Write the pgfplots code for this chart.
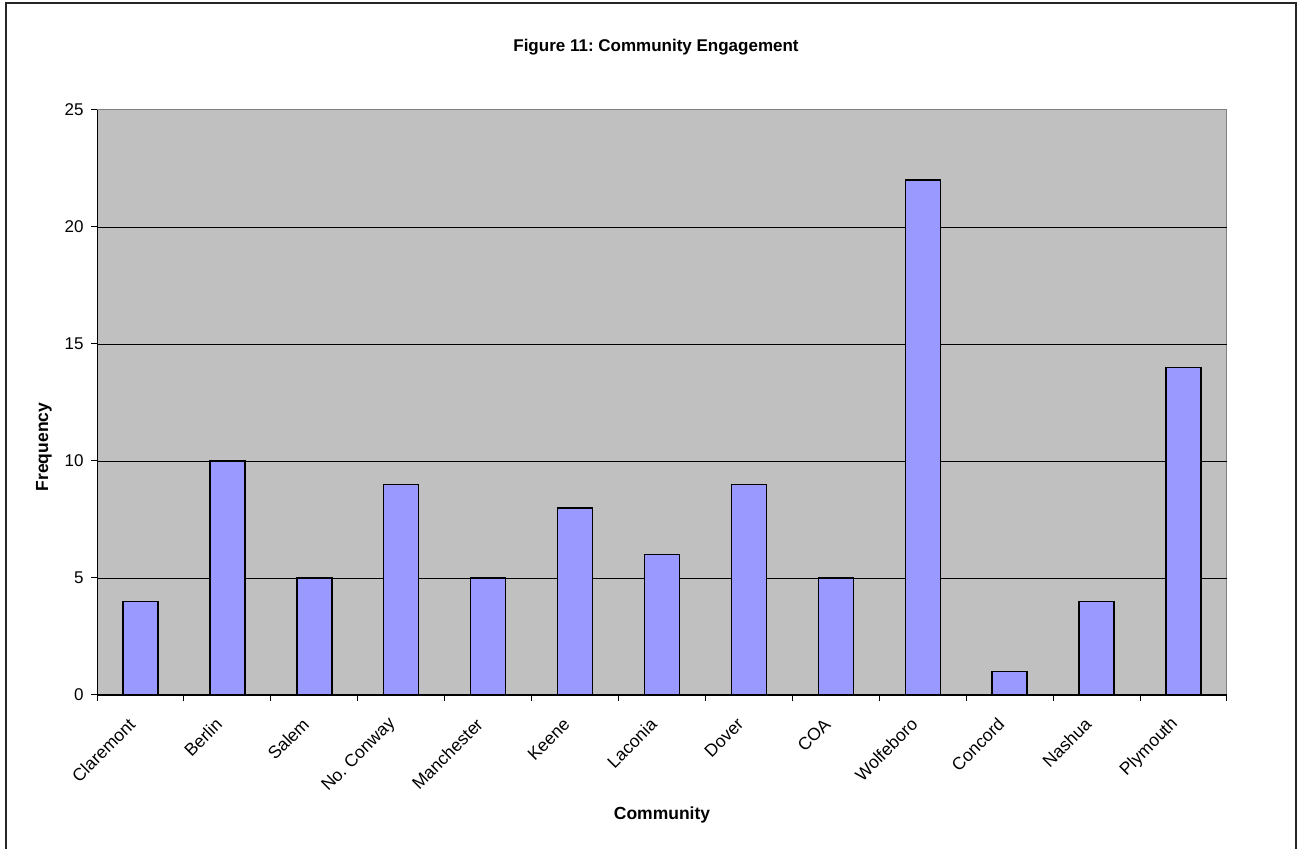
\documentclass[border=0pt]{standalone}
\usepackage{pgfplots}
\pgfplotsset{compat=1.18}
\usepackage{fontspec}
\setmainfont{Liberation Sans}
\frenchspacing
\definecolor{barblue}{HTML}{9999FF}
\definecolor{plotgray}{HTML}{C0C0C0}
\begin{document}
\begin{tikzpicture}
\useasboundingbox (0pt,0pt) rectangle (1299pt,849pt);
\draw[line width=2pt, black!85] (6pt,-5pt) rectangle (1296pt,846pt);
\begin{axis}[
  at={(97pt,154pt)}, anchor=south west,
  scale only axis, width=1130pt, height=585pt,
  xmin=0.5, xmax=13.5, ymin=0, ymax=25,
  axis x line*=bottom, axis y line*=left,
  axis line style={line width=1pt, black},
  axis background/.style={fill=plotgray, draw=gray, line width=1pt},
  ytick={0,5,...,20},
  extra y ticks={25},
  extra y tick style={grid=none},
  ymajorgrids, grid style={black, line width=0.8pt},
  tick align=outside, major tick length=6pt,
  tick style={black, line width=1pt},
  xtick={0.5,1.5,...,13.5}, xticklabels={},
  extra x ticks={1,2,...,13},
  extra x tick labels={Claremont,Berlin,Salem,No. Conway,Manchester,Keene,Laconia,Dover,COA,Wolfeboro,Concord,Nashua,Plymouth},
  extra x tick style={major tick length=0pt, grid=none,
    tick label style={xshift=-6pt, yshift=-24pt, rotate=45, anchor=east}},
  yticklabel style={font=\fontsize{17}{19}\selectfont, xshift=-4pt},
  xticklabel style={font=\fontsize{17.5}{19}\selectfont},
  /pgf/number format/assume math mode=true,
  enlargelimits=false, clip=false,
]
\addplot[ybar, bar width=35pt, fill=barblue, draw=black, line width=1.5pt] coordinates {
(1,4) (2,10) (3,5) (4,9) (5,5) (6,8) (7,6) (8,9) (9,5) (10,22) (11,1) (12,4) (13,14)
};
\end{axis}
\node[font=\bfseries\fontsize{17}{20}\selectfont] at (656pt,802pt) {Figure 11: Community Engagement};
\node[font=\bfseries\fontsize{17.5}{20}\selectfont, rotate=90] at (44pt,402pt) {Frequency};
\node[font=\bfseries\fontsize{17.5}{20}\selectfont] at (662pt,34pt) {Community};
\end{tikzpicture}
\end{document}
